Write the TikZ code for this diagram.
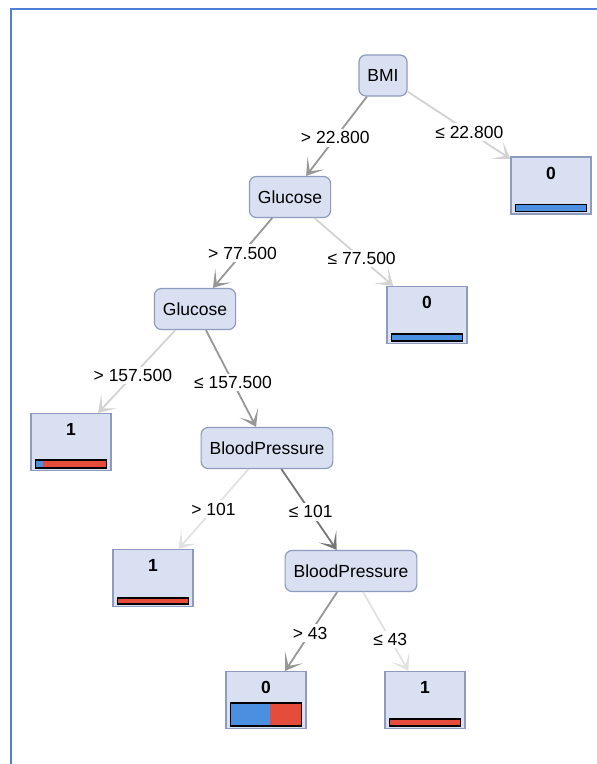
\documentclass[tikz,border=0pt]{standalone}
\usepackage{fontspec}
\setmainfont{Liberation Sans}
\usepackage{tikz}
\usetikzlibrary{arrows.meta,calc}
\definecolor{TreeFill}{HTML}{D9E0F1}
\definecolor{TreeBorder}{HTML}{8E9BBE}
\definecolor{TreeBlue}{HTML}{4A8FE0}
\definecolor{TreeRed}{HTML}{E64C3C}
\definecolor{TreeFrame}{HTML}{4F7FD6}
\definecolor{EdgeDark}{HTML}{767676}
\definecolor{EdgeMid}{HTML}{979797}
\definecolor{EdgeLight}{HTML}{D2D2D2}
\definecolor{EdgePale}{HTML}{E2E2E2}

% class bar at the bottom of a leaf: node, bar height, blue share
\newcommand{\leafbar}[3]{%
  \coordinate (#1-bl) at ([xshift=5pt,yshift=3pt]#1.south west);
  \coordinate (#1-tr) at ([xshift=-5pt,yshift=3pt+#2]#1.south east);
  \coordinate (#1-mid) at ($(#1-bl)!#3!(#1-tr)$);
  \fill[TreeRed] (#1-bl) rectangle (#1-tr);
  \fill[TreeBlue] (#1-bl) rectangle (#1-mid |- #1-tr);
  \draw[black, line width=1.3pt] (#1-bl) rectangle (#1-tr);
}

\begin{document}
\begin{tikzpicture}[
  x=1pt,
  y=-1pt,
  font=\fontsize{17.5}{20}\selectfont,
  split/.style={
    draw=TreeBorder,
    fill=TreeFill,
    rounded corners=7pt,
    line width=1.2pt,
    minimum height=41pt,
    inner xsep=8.5pt
  },
  leaf/.style={
    draw=TreeBorder,
    fill=TreeFill,
    line width=1.2pt,
    minimum width=80pt,
    text height=17pt,
    text depth=30pt,
    inner ysep=5pt,
    font=\fontsize{17.5}{20}\selectfont\bfseries
  },
  edge/.style={-{Stealth[length=16pt,width=21pt,inset=10pt]}, line width=1.8pt},
  cond/.style={fill=white, inner sep=2.5pt, text=black}
]
\useasboundingbox (0,0) rectangle (597,764);
\draw[TreeFrame, line width=2.2pt] (597,9) -- (11,9) -- (11,764);

\node[split] (bmi) at (383,75.5) {BMI};
\node[split] (glu) at (290,197) {Glucose};
\node[split] (glutwo) at (195,309) {Glucose};
\node[split] (bp) at (267,448) {BloodPressure};
\node[split] (bptwo) at (351,571) {BloodPressure};

\node[leaf] (leafbmi) at (551,185.5) {0};
\node[leaf] (leafglu) at (427,315) {0};
\node[leaf] (leafhigh) at (71,442) {1};
\node[leaf] (leafbp) at (153,578) {1};
\node[leaf] (leaflow) at (266,700) {0};
\node[leaf] (leafbptwo) at (425,700) {1};

\leafbar{leafbmi}{7pt}{1}
\leafbar{leafglu}{7pt}{1}
\leafbar{leafhigh}{8pt}{0.1}
\leafbar{leafbp}{6pt}{0}
\leafbar{leaflow}{23pt}{0.56}
\leafbar{leafbptwo}{7pt}{0}

\draw[edge, draw=EdgeMid, fill=EdgeMid] (bmi) -- node[cond, pos=0.52] {> 22.800} (glu);
\draw[edge, draw=EdgeLight, fill=EdgeLight] (bmi) -- node[cond, pos=0.6] {≤ 22.800} (leafbmi);
\draw[edge, draw=EdgeMid, fill=EdgeMid] (glu) -- node[cond, pos=0.5] {> 77.500} (glutwo);
\draw[edge, draw=EdgeLight, fill=EdgeLight] (glu) -- node[cond, pos=0.6] {≤ 77.500} (leafglu);
\draw[edge, draw=EdgeLight, fill=EdgeLight] (glutwo) -- node[cond, pos=0.55] {> 157.500} (leafhigh);
\draw[edge, draw=EdgeMid, fill=EdgeMid] (glutwo) -- node[cond, pos=0.54] {≤ 157.500} (bp);
\draw[edge, draw=EdgePale, fill=EdgePale] (bp) -- node[cond, pos=0.5] {> 101} (leafbp);
\draw[edge, draw=EdgeDark, fill=EdgeDark] (bp) -- node[cond, pos=0.53] {≤ 101} (bptwo);
\draw[edge, draw=EdgeMid, fill=EdgeMid] (bptwo) -- node[cond, pos=0.52] {> 43} (leaflow);
\draw[edge, draw=EdgePale, fill=EdgePale] (bptwo) -- node[cond, pos=0.6] {≤ 43} (leafbptwo);
\end{tikzpicture}
\end{document}
